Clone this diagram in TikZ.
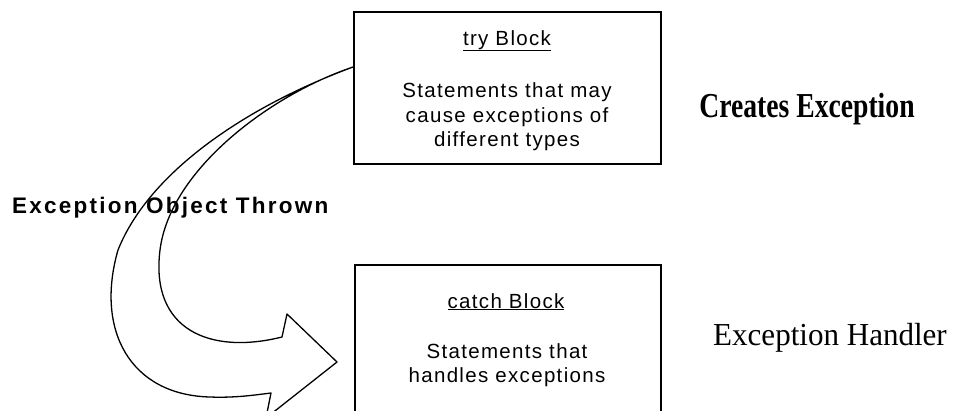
\documentclass[tikz,border=0pt]{standalone}
\usepackage{fontspec}
\setmainfont{Liberation Serif}
\newfontfamily\boxfont[LetterSpace=6.5]{Liberation Sans}
\newfontfamily\flowfont[LetterSpace=10]{Liberation Sans}

\tikzset{
  block/.style={draw, line width=2pt, inner sep=0pt},
  boxtext/.style={anchor=base, inner sep=0pt, font=\boxfont\fontsize{20.5}{24}\selectfont},
  sidenote/.style={anchor=base, inner sep=0pt},
  flowshape/.style={draw, line width=1.3pt, line join=round},
}

\begin{document}
\begin{tikzpicture}[x=1pt, y=-1pt]
  \useasboundingbox (0,0) rectangle (953,410);
  \clip (0,0) rectangle (953,410);

  % the two blocks; the catch block runs past the lower edge
  \node[block, minimum width=307pt, minimum height=152pt] (tryblk) at (507.5,88) {};
  \node[block, minimum width=306pt, minimum height=180pt] (catchblk) at (508,355) {};

  % try block contents
  \node[boxtext] (trytitle) at (507,45) {\underline{try Block}};
  \node[boxtext] (tryl1) at (507,97) {Statements that may};
  \node[boxtext] (tryl2) at (507,122) {cause exceptions of};
  \node[boxtext] (tryl3) at (507,146) {different types};

  % catch block contents
  \node[boxtext] (catchtitle) at (506,308) {\underline{catch Block}};
  \node[boxtext] (catchl1) at (507,358) {Statements that};
  \node[boxtext] (catchl2) at (507,382) {handles exceptions};

  % side notes
  \node[sidenote] (creates) at (807,117)
    {\scalebox{0.79}[1]{\fontsize{35}{40}\selectfont\bfseries Creates Exception}};
  \node[sidenote] (handler) at (830,345)
    {\scalebox{0.97}[1]{\fontsize{32}{38}\selectfont Exception Handler}};

  % label of the throw
  \node[anchor=base west, inner sep=0pt, font=\flowfont\bfseries\fontsize{22.5}{26}\selectfont]
    (thrown) at (12,213) {Exception Object Thrown};

  % curved block arrow from the try block down to the catch block
  \coordinate (tail) at (353,67);
  \coordinate (tip) at (337,362);
  \draw[flowshape] (tail)
    .. controls (250,105) and (150,170) .. (118,250)
    .. controls (95,330) and (130,395) .. (210,397)
    .. controls (235,398) and (255,395) .. (271,393)
    -- (266,418)
    -- (tip)
    -- (287,314)
    -- (282,337)
    .. controls (210,355) and (150,330) .. (160,250)
    .. controls (170,170) and (270,95) .. (tail);
\end{tikzpicture}
\end{document}
